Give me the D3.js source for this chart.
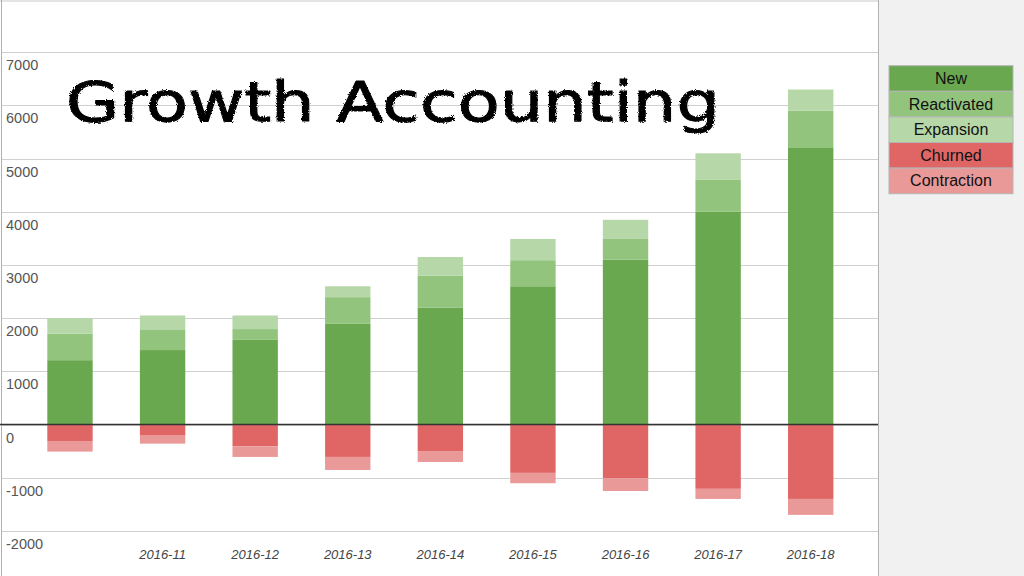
<!DOCTYPE html>
<html><head><meta charset="utf-8">
<script src="https://cdn.jsdelivr.net/npm/d3@7"></script>
<style>html,body{margin:0;padding:0;background:#fff;}svg{display:block;}</style>
</head><body>
<svg id="c" width="1024" height="576"></svg>
<script>
const categories = ["2016-10","2016-11","2016-12","2016-13","2016-14","2016-15","2016-16","2016-17","2016-18"];
const tickLabels = ["","2016-11","2016-12","2016-13","2016-14","2016-15","2016-16","2016-17","2016-18"];
const newUsers    = [1210, 1400, 1600, 1900, 2200, 2600, 3100, 4000, 5200];
const reactivated = [ 500,  390,  195,  495,  600,  490,  400,  600,  700];
const expansion   = [ 290,  260,  255,  205,  350,  400,  350,  500,  400];
const churned     = [-310, -210, -410, -610, -510, -910,-1010,-1210,-1400];
const contraction = [-200, -150, -200, -245, -195, -195, -240, -190, -300];
const seriesNames = ["New","Reactivated","Expansion","Churned","Contraction"];
const seriesColors = ["#6aa84f","#93c47d","#b6d7a8","#e06666","#ea9999"];
const yTicks = [-2000,-1000,0,1000,2000,3000,4000,5000,6000,7000];
const title = "Growth Accounting";

const svg = d3.select("#c");
svg.append("rect").attr("x",878).attr("y",0).attr("width",146).attr("height",576).attr("fill","#f1f1f1");
svg.append("rect").attr("x",0).attr("y",0).attr("width",878).attr("height",576).attr("fill","#fff");

const x = d3.scaleBand().domain(categories).range([23.7, 857]).paddingInner(0.51).paddingOuter(0.255);
const y = d3.scaleLinear().domain([0, 7000]).range([424.5, 52.3]);

svg.append("g").selectAll("line").data(yTicks).join("line")
  .attr("x1",2).attr("x2",878).attr("y1",d=>Math.round(y(d))+0.5).attr("y2",d=>Math.round(y(d))+0.5)
  .attr("stroke","#d0d0d0").attr("stroke-width",1.2);
svg.append("line").attr("x1",0).attr("x2",878).attr("y1",1).attr("y2",1).attr("stroke","#c8c8c8");
svg.append("line").attr("x1",1.5).attr("x2",1.5).attr("y1",0).attr("y2",576).attr("stroke","#b0b0b0");
svg.append("line").attr("x1",878.5).attr("x2",878.5).attr("y1",0).attr("y2",576).attr("stroke","#b0b0b0");

svg.append("g").selectAll("text").data(yTicks).join("text")
  .attr("x",6).attr("y",d=>y(d)+18)
  .attr("font-family","Liberation Sans, Arial, sans-serif").attr("font-size",14.5).attr("fill","#555")
  .text(d=>d);

const rows = categories.map((c,i)=>({cat:c, New:newUsers[i], Reactivated:reactivated[i], Expansion:expansion[i], Churned:churned[i], Contraction:contraction[i]}));
const stack = d3.stack().keys(seriesNames).offset(d3.stackOffsetDiverging);
const stacked = stack(rows);
const colorScale = d3.scaleOrdinal().domain(seriesNames).range(seriesColors);
svg.append("g").selectAll("g").data(stacked).join("g").attr("fill",d=>colorScale(d.key))
  .selectAll("rect").data(d=>d).join("rect")
  .attr("x",d=>x(d.data.cat)).attr("width",x.bandwidth())
  .attr("y",d=>y(Math.max(d[0],d[1]))).attr("height",d=>Math.abs(y(d[0])-y(d[1])));

svg.append("line").attr("x1",0).attr("x2",878).attr("y1",y(0)).attr("y2",y(0)).attr("stroke","#333").attr("stroke-width",1.3);

svg.append("g").selectAll("text").data(categories).join("text")
  .attr("x",d=>x(d)+x.bandwidth()/2).attr("y",559).attr("text-anchor","middle")
  .attr("font-family","Liberation Sans, Arial, sans-serif").attr("font-size",13).attr("font-style","italic").attr("fill","#444")
  .text((d,i)=>tickLabels[i]);

const lg = svg.append("g");
const lx = 889, ly = 65.7, lw = 124, lh = 25.6;
seriesNames.forEach((n,i)=>{
  lg.append("rect").attr("x",lx).attr("y",ly+i*lh).attr("width",lw).attr("height",lh)
    .attr("fill",seriesColors[i]).attr("stroke","#b5b5b5").attr("stroke-width",1);
  lg.append("text").attr("x",lx+lw/2).attr("y",ly+i*lh+lh/2+5.5).attr("text-anchor","middle")
    .attr("font-family","Liberation Sans, Arial, sans-serif").attr("font-size",16).attr("fill","#111").text(n);
});

const defs = svg.append("defs");
const f = defs.append("filter").attr("id","rough").attr("x","-5%").attr("y","-20%").attr("width","110%").attr("height","140%");
f.append("feTurbulence").attr("type","fractalNoise").attr("baseFrequency",0.9).attr("numOctaves",2).attr("result","n");
f.append("feDisplacementMap").attr("in","SourceGraphic").attr("in2","n").attr("scale",3.5);
svg.append("text").attr("x",66).attr("y",121)
  .attr("font-family","DejaVu Sans, sans-serif").attr("font-size",56)
  .attr("textLength",654).attr("lengthAdjust","spacingAndGlyphs")
  .attr("fill","#000").attr("stroke","#000").attr("stroke-width",1.0)
  .attr("filter","url(#rough)")
  .text(title);
</script>
</body></html>
